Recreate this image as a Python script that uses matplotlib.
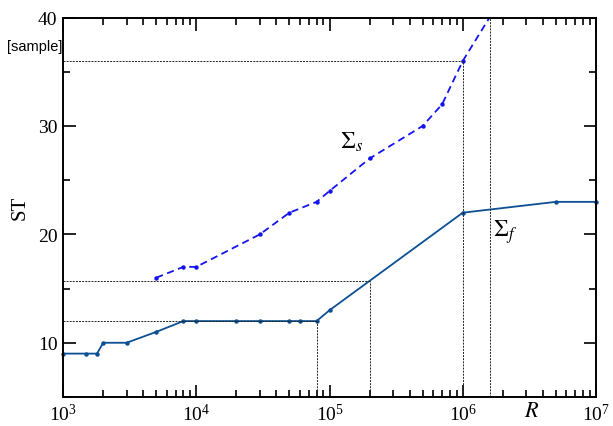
import numpy as np
import matplotlib
matplotlib.use('Agg')
import matplotlib.pyplot as plt
from matplotlib.ticker import LogLocator, MultipleLocator, NullFormatter

plt.rcParams['font.family'] = ['Liberation Serif', 'DejaVu Serif']
plt.rcParams['mathtext.fontset'] = 'stix'

# Sigma_s (dashed) and Sigma_f (solid) series
rs = [5e3, 8e3, 1e4, 3e4, 5e4, 8e4, 1e5, 2e5, 5e5, 7e5, 1e6, 2e6]
st_s = [16, 17, 17, 20, 22, 23, 24, 27, 30, 32, 36, 42]

rf = [1e3, 1.5e3, 1.8e3, 2e3, 3e3, 5e3, 8e3, 1e4, 2e4, 3e4, 5e4, 6e4, 8e4,
      1e5, 1e6, 5e6, 1e7]
st_f = [9, 9, 9, 10, 10, 11, 12, 12, 12, 12, 12, 12, 12, 13, 22, 23, 23]

xmin, xmax = 1e3, 1e7
ymin, ymax = 5, 40

fig = plt.figure(figsize=(6.13, 4.27), dpi=100)
ax = fig.add_axes([0.1028, 0.068, 0.8695, 0.8885])

ax.plot(rs, st_s, color='#1414f0', ls=(0, (4, 2.5)), lw=1.3,
        marker='o', ms=2.2, clip_on=True)
ax.plot(rf, st_f, color='#0b4f94', ls='-', lw=1.3,
        marker='o', ms=2.2, clip_on=False)


def f_at(x):
    # log-linear interpolation of Sigma_f
    return np.interp(np.log10(x), np.log10(rf), st_f)


def s_cross(y):
    # where Sigma_s reaches y
    return 10 ** np.interp(y, st_s, np.log10(rs))


guide = dict(color='#222222', lw=0.7, ls=(0, (2, 1.2)))
# guide lines: (x, y) corners
for gx, gy in [(8e4, 12), (2e5, f_at(2e5)), (1e6, 36)]:
    ax.plot([xmin, gx], [gy, gy], **guide)
    ax.plot([gx, gx], [ymin, gy], **guide)
xc = s_cross(40)
ax.plot([xc, xc], [ymin, ymax], **guide)

ax.set_xscale('log')
ax.set_xlim(xmin, xmax)
ax.set_ylim(ymin, ymax)

ax.xaxis.set_major_locator(LogLocator(base=10, numticks=10))
ax.xaxis.set_minor_locator(LogLocator(base=10, subs=np.arange(2, 10), numticks=20))
ax.xaxis.set_minor_formatter(NullFormatter())
ax.yaxis.set_major_locator(MultipleLocator(10))
ax.yaxis.set_minor_locator(MultipleLocator(5))

ax.tick_params(which='both', direction='in', top=True, right=True,
               labelsize=14, width=1.2, pad=4)
ax.tick_params(which='major', length=9)
ax.tick_params(which='minor', length=5)
for sp in ax.spines.values():
    sp.set_linewidth(1.4)

ax.set_ylabel('ST', fontsize=15, labelpad=6)
ax.text(0.88, -0.013, '$R$', transform=ax.transAxes, fontsize=16,
        ha='center', va='top')
ax.text(-0.002, 0.925, '[sample]', transform=ax.transAxes, fontsize=10.5,
        ha='right', va='center', family=['Liberation Sans', 'DejaVu Sans'])

ax.text(1.2e5, 28.6, r'$\Sigma_s$', fontsize=17, ha='left', va='center')
ax.text(1.7e6, 20.3, r'$\Sigma_f$', fontsize=17, ha='left', va='center')

fig.savefig('out.png', dpi=100)
